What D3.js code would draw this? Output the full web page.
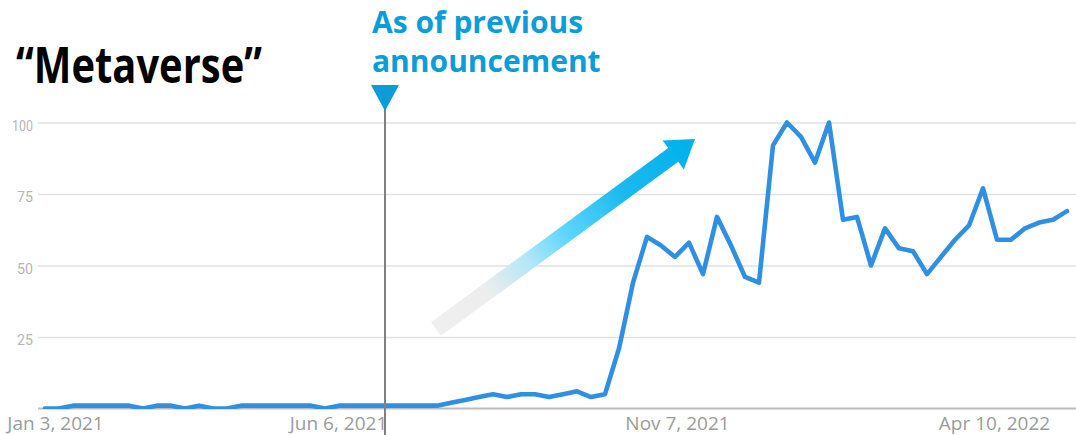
<!DOCTYPE html>
<html>
<head>
<meta charset="utf-8">
<script src="https://cdn.jsdelivr.net/npm/d3@7"></script>
<style>
  html, body { margin: 0; padding: 0; background: #fff; }
  svg { display: block; }
</style>
</head>
<body>
<svg id="chart" width="1076" height="435"></svg>
<script>
// Weekly search interest for "Metaverse" (0–100), weeks starting Jan 3, 2021
const firstWeek = new Date(2021, 0, 3);
const interest = [
  0, 0, 1, 1, 1, 1, 1, 0, 1, 1,
  0, 1, 0, 0, 1, 1, 1, 1, 1, 1,
  0, 1, 1, 1, 1, 1, 1, 1, 1, 2,
  3, 4, 5, 4, 5, 5, 4, 5, 6, 4,
  5, 21, 44, 60, 57, 53, 58, 47, 67, 57,
  46, 44, 92, 100, 95, 86, 100, 66, 67, 50,
  63, 56, 55, 47, 53, 59, 64, 77, 59, 59,
  63, 65, 66, 69
];
const yTickValues = [25, 50, 75, 100];
const xTickDates = [
  new Date(2021, 0, 3), new Date(2021, 5, 6),
  new Date(2021, 10, 7), new Date(2022, 3, 10)
];
const announcementDate = new Date(2021, 5, 22);
const titleText = "\u201CMetaverse\u201D";
const noteLines = ["As of previous", "announcement"];

const weeks = interest.map((v, i) => ({ date: d3.timeWeek.offset(firstWeek, i), value: v }));

const W = 1076, H = 435;
const svg = d3.select("#chart");
svg.append("rect").attr("width", W).attr("height", H).attr("fill", "#fff");

const x = d3.scaleTime()
  .domain(d3.extent(weeks, d => d.date))
  .range([45, 1067]);
const y = d3.scaleLinear().domain([0, 100]).range([408.5, 122.5]);

// horizontal gridlines
const grid = svg.append("g")
  .attr("transform", "translate(38,0)")
  .call(d3.axisRight(y).tickValues(yTickValues).tickSize(W - 38).tickFormat(""));
grid.select(".domain").remove();
grid.selectAll("line").attr("stroke", "#e1e1e1").attr("stroke-width", 1.6);

// y tick labels (narrow numerals)
const yAxis = svg.append("g")
  .attr("transform", "translate(33,0)")
  .call(d3.axisLeft(y).tickValues(yTickValues).tickSize(0).tickPadding(0));
yAxis.select(".domain").remove();
yAxis.selectAll("text")
  .attr("fill", "#b6b6b6")
  .attr("font-family", "Roboto, sans-serif")
  .attr("font-size", 15)
  .attr("dy", "0.5em")
  .attr("textLength", d => String(d).length === 3 ? 21 : 16)
  .attr("lengthAdjust", "spacingAndGlyphs");

// zero baseline
svg.append("line")
  .attr("x1", 38).attr("x2", W)
  .attr("y1", y(0)).attr("y2", y(0))
  .attr("stroke", "#bdbdbd").attr("stroke-width", 2);

// x tick labels
const labelShift = [10, -15, 16, 25];
const xAxis = svg.append("g")
  .attr("transform", `translate(0,${y(0)})`)
  .call(d3.axisBottom(x).tickValues(xTickDates).tickSize(0)
    .tickFormat(d3.timeFormat("%b %-d, %Y")));
xAxis.select(".domain").remove();
xAxis.selectAll("text")
  .attr("y", 21)
  .attr("dy", null)
  .attr("dx", (d, i) => labelShift[i])
  .attr("fill", "#9b9b9b")
  .attr("font-family", "'Open Sans', sans-serif")
  .attr("font-size", 19);

// trend arrow with gray-to-cyan gradient
const defs = svg.append("defs");
const tail = [436, 329], tip = [695, 139];
const arrowLen = Math.hypot(tip[0] - tail[0], tip[1] - tail[1]);
const arrowAngle = Math.atan2(tip[1] - tail[1], tip[0] - tail[0]) * 180 / Math.PI;
const grad = defs.append("linearGradient")
  .attr("id", "arrowGrad")
  .attr("gradientUnits", "userSpaceOnUse")
  .attr("x1", 0).attr("y1", 0).attr("x2", arrowLen).attr("y2", 0);
[[0, "#efefef"], [0.2, "#ededed"], [0.36, "#b2e6f8"], [0.5, "#5ed6fd"],
 [0.72, "#1cb9ef"], [1, "#00b0ea"]].forEach(([o, c]) =>
  grad.append("stop").attr("offset", o).attr("stop-color", c));

const shaftHalf = 8.5, headHalf = 18, headLen = 27;
const arrowPts = [
  [0, -shaftHalf], [arrowLen - headLen, -shaftHalf], [arrowLen - headLen, -headHalf],
  [arrowLen, 0],
  [arrowLen - headLen, headHalf], [arrowLen - headLen, shaftHalf], [0, shaftHalf]
];
svg.append("polygon")
  .attr("transform", `translate(${tail[0]},${tail[1]}) rotate(${arrowAngle})`)
  .attr("points", arrowPts.map(p => p.join(",")).join(" "))
  .attr("fill", "url(#arrowGrad)");

// interest line, clipped at the baseline
defs.append("clipPath").attr("id", "plotClip")
  .append("rect").attr("x", 0).attr("y", 0).attr("width", W).attr("height", y(0) + 0.5);
svg.append("path")
  .datum(weeks)
  .attr("clip-path", "url(#plotClip)")
  .attr("fill", "none")
  .attr("stroke", "#2f8fe2")
  .attr("stroke-width", 4.6)
  .attr("stroke-linejoin", "round")
  .attr("stroke-linecap", "round")
  .attr("d", d3.line().x(d => x(d.date)).y(d => y(d.value)));

// announcement marker
const ax = x(announcementDate);
svg.append("line")
  .attr("x1", ax).attr("x2", ax)
  .attr("y1", 108).attr("y2", H)
  .attr("stroke", "#808080").attr("stroke-width", 2);
svg.append("path")
  .attr("d", `M${ax - 14},85 L${ax + 14},85 L${ax},111 Z`)
  .attr("fill", "#0a9dd7");

const note = svg.append("text")
  .attr("fill", "#0a9dd7")
  .attr("font-family", "'Open Sans', sans-serif")
  .attr("font-weight", 700)
  .attr("font-size", 30);
note.selectAll("tspan").data(noteLines).join("tspan")
  .attr("x", 372)
  .attr("y", (d, i) => 33 + i * 38.5)
  .text(d => d);

// title
svg.append("text")
  .attr("x", 16).attr("y", 83)
  .attr("fill", "#000")
  .attr("font-family", "'Open Sans', sans-serif")
  .attr("font-weight", 700)
  .attr("font-size", 50)
  .attr("textLength", 246)
  .attr("lengthAdjust", "spacingAndGlyphs")
  .text(titleText);
</script>
</body>
</html>
